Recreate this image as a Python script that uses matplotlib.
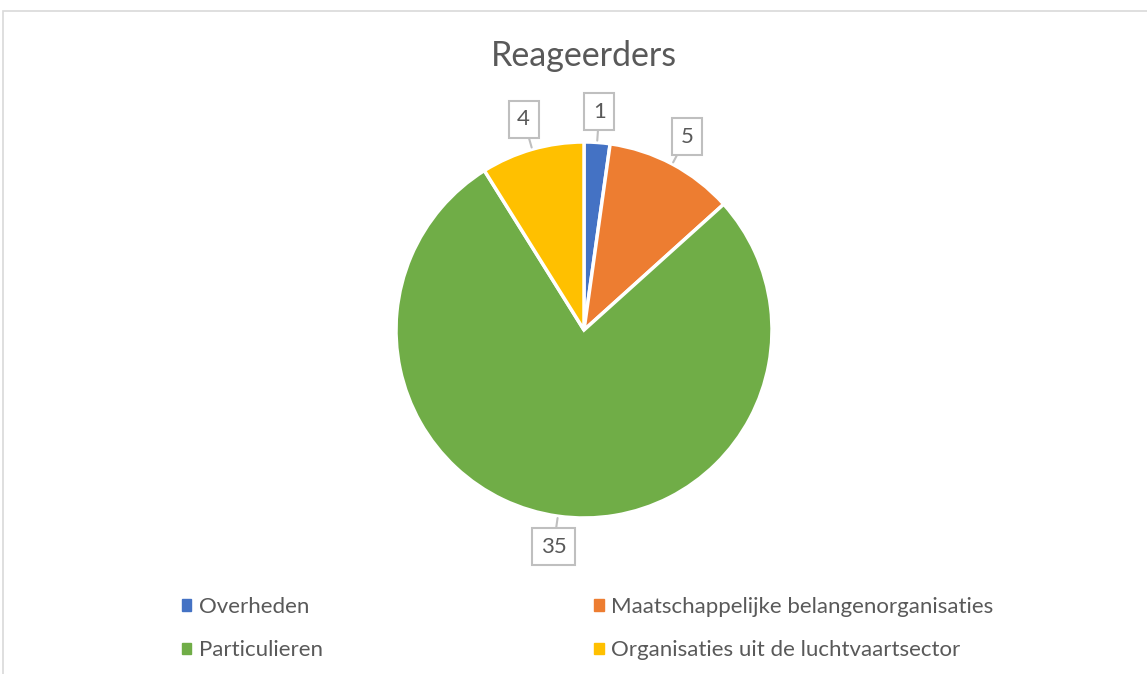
import numpy as np
import matplotlib.pyplot as plt
import matplotlib.patches as mpatches

# --- data --- #
categories = ['Overheden', 'Maatschappelijke belangenorganisaties',
              'Particulieren', 'Organisaties uit de luchtvaartsector']
values = [1, 5, 35, 4]
colors = ['#4472C4', '#ED7D31', '#70AD47', '#FFC000']
title = 'Reageerders'

plt.rcParams['font.family'] = ['Lato', 'DejaVu Sans']
txt_col = '#595959'

W, H = 1147, 674
fig = plt.figure(figsize=(W / 100, H / 100), dpi=100)

# pie centre / radius in pixels
cx, cy, rad = 584, 330, 188
ax = fig.add_axes([0, 0, 1, 1])
wedges, _ = ax.pie(values, colors=colors, startangle=90, counterclock=False,
                   wedgeprops=dict(edgecolor='white', linewidth=2.5))
ax.set_xlim(-cx / rad, (W - cx) / rad)
ax.set_ylim(-(H - cy) / rad, cy / rad)
ax.set_aspect('auto')
ax.axis('off')

# data labels in callout boxes
for w, v in zip(wedges, values):
    ang = np.deg2rad((w.theta1 + w.theta2) / 2)
    tip = (1.01 * np.cos(ang), 1.01 * np.sin(ang))
    pos = (1.165 * np.cos(ang), 1.165 * np.sin(ang))
    ax.annotate(str(v), xy=tip, xytext=pos, ha='center', va='center',
                fontsize=16, color=txt_col,
                bbox=dict(boxstyle='square,pad=0.38', fc='white',
                          ec='#BFBFBF', lw=1.5),
                arrowprops=dict(arrowstyle='-', color='#BFBFBF', lw=1.5,
                                shrinkA=0, shrinkB=0))

fig.text(cx / W, 1 - 56 / H, title, ha='center', va='center',
         fontsize=24.5, color=txt_col)

# legend: row order Overheden, Maatsch. / Particulieren, Organisaties
order = [0, 2, 1, 3]
handles = [mpatches.Patch(color=colors[i]) for i in order]
labels = [categories[i] for i in order]
fig.legend(handles, labels, ncol=2, loc='upper left',
           bbox_to_anchor=(162 / W, 1 - 577 / H), frameon=False,
           fontsize=16, labelcolor=txt_col, handlelength=0.42,
           handleheight=0.42, handletextpad=0.35, columnspacing=12.2,
           labelspacing=1.05)

# chart area border (continues past the image)
fig.patches.append(mpatches.Rectangle((3 / W, -0.1), 1.2, 1 - 11 / H + 0.1,
                                      transform=fig.transFigure, fill=False,
                                      ec='#D9D9D9', lw=1.2))

fig.savefig('out.png', dpi=100)
